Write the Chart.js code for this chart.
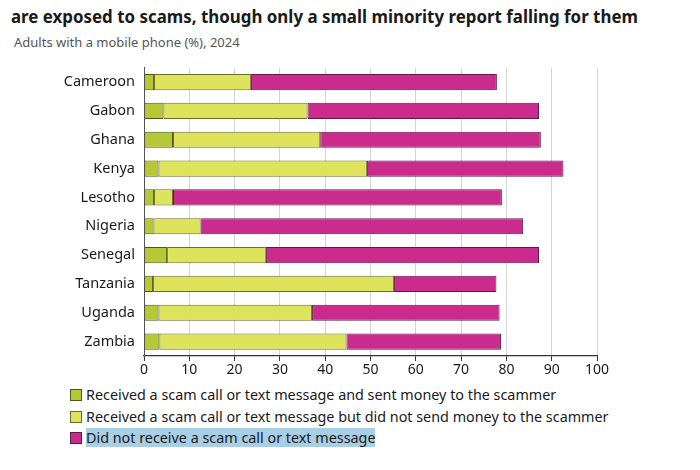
<!DOCTYPE html>
<html>
<head>
<meta charset="utf-8">
<script src="https://cdn.jsdelivr.net/npm/chart.js@4"></script>
<style>
  body { margin: 0; background: #fff; font-family: "Noto Sans", sans-serif; color: #1a1a1a; }
  #title { position: absolute; left: 11px; top: 5px; font-size: 16.9px; font-weight: bold; white-space: nowrap; }
  #subtitle { position: absolute; left: 14px; top: 33px; font-size: 13px; color: #555; }
  #chart-box { position: absolute; left: 0; top: 58px; width: 620px; height: 324px; }
  #legend { position: absolute; left: 70px; top: 384px; font-size: 14.35px; }
  .item { height: 21.5px; line-height: 21.5px; white-space: nowrap; }
  .swatch { display: inline-block; width: 10px; height: 10px; margin-right: 4px; vertical-align: -1px; border: 1px solid; }
  .sel { background: #a8cfe6; }
</style>
</head>
<body>
<div id="title">are exposed to scams, though only a small minority report falling for them</div>
<div id="subtitle">Adults with a mobile phone (%), 2024</div>
<div id="chart-box"><canvas id="chart"></canvas></div>
<div id="legend"></div>
<script>
const countries = ['Cameroon', 'Gabon', 'Ghana', 'Kenya', 'Lesotho', 'Nigeria', 'Senegal', 'Tanzania', 'Uganda', 'Zambia']
const sentMoney = [2.2, 4.3, 6.4, 3.2, 2.2, 2.1, 5.1, 2.0, 3.2, 3.4]
const didNotSend = [21.4, 31.8, 32.5, 46.0, 4.2, 10.4, 21.8, 53.2, 33.9, 41.3]
const notReceived = [54.3, 51.1, 48.7, 43.4, 72.6, 71.2, 60.3, 22.6, 41.4, 34.1]
const xTicks = [0, 10, 20, 30, 40, 50, 60, 70, 80, 90, 100]

const seriesNames = [
  'Received a scam call or text message and sent money to the scammer',
  'Received a scam call or text message but did not send money to the scammer',
  'Did not receive a scam call or text message'
]
const fills = ['#b6c934', '#dde45c', '#cc2b8e']
const edges = ['#4f5420', '#6b6d2a', '#5e1a44']

function renderLegend() {
  const box = document.getElementById('legend')
  seriesNames.forEach((name, i) => {
    const row = document.createElement('div')
    row.className = 'item'
    const sw = document.createElement('span')
    sw.className = 'swatch'
    sw.style.background = fills[i]
    sw.style.borderColor = edges[i]
    const text = document.createElement('span')
    text.innerText = name
    if (i === 2) text.className = 'sel'
    row.appendChild(sw)
    row.appendChild(text)
    box.appendChild(row)
  })
}

function start() {
  const ctx = document.getElementById('chart').getContext('2d')
  const values = [sentMoney, didNotSend, notReceived]
  new Chart(ctx, {
    type: 'bar',
    data: {
      labels: countries,
      datasets: values.map((data, i) => ({
        label: seriesNames[i],
        data: data,
        backgroundColor: fills[i],
        borderColor: edges[i],
        borderWidth: 1,
        borderSkipped: false,
        barPercentage: 0.56,
        categoryPercentage: 1
      }))
    },
    options: {
      indexAxis: 'y',
      responsive: true,
      maintainAspectRatio: false,
      animation: false,
      layout: { padding: { top: 5, right: 23 } },
      plugins: { legend: { display: false }, tooltip: { enabled: false } },
      scales: {
        x: {
          stacked: true,
          min: 0,
          max: 100,
          afterBuildTicks: s => { s.ticks = xTicks.map(v => ({ value: v })) },
          afterFit: s => { s.height = 26 },
          grid: { color: '#d4d4d4', tickColor: '#333', tickLength: 5, lineWidth: 1 },
          border: { color: '#333', width: 1.2 },
          ticks: { color: '#1a1a1a', font: { family: 'Noto Sans', size: 14 }, padding: 1 }
        },
        y: {
          stacked: true,
          afterFit: s => { s.width = 144 },
          grid: { display: false },
          border: { color: '#555', width: 1 },
          ticks: { color: '#1a1a1a', font: { family: 'Noto Sans', size: 14.5 }, padding: 1 }
        }
      }
    }
  })
  renderLegend()
}

document.addEventListener('DOMContentLoaded', start)
</script>
</body>
</html>
